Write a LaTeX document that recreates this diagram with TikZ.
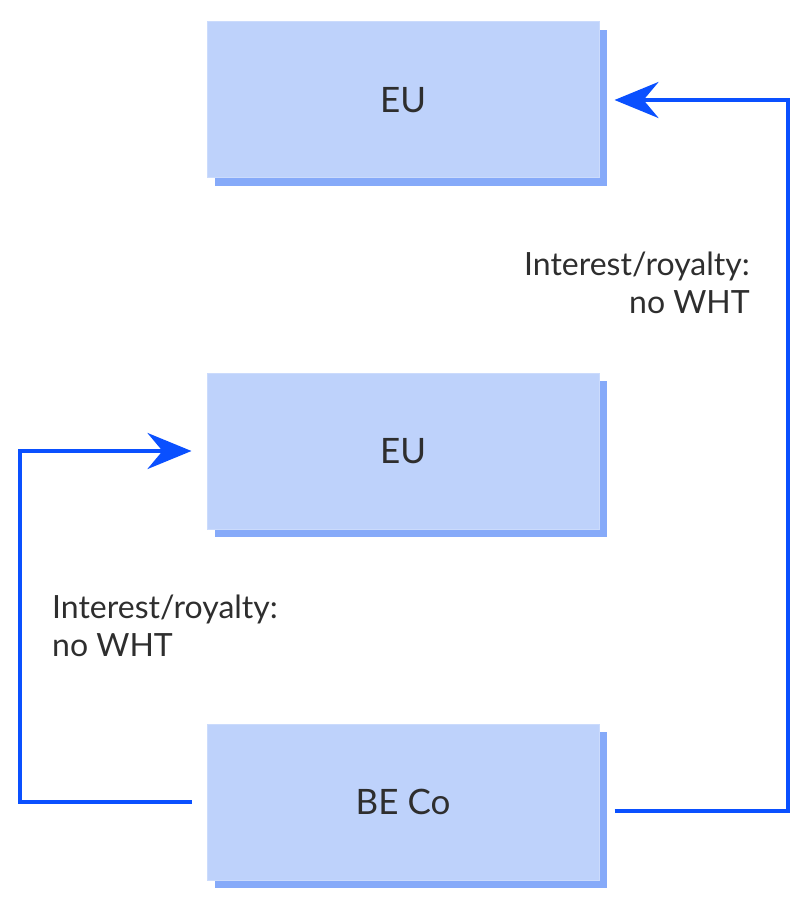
\documentclass[tikz,border=0pt]{standalone}
\usepackage{fontspec}
\setmainfont{Lato}
\usetikzlibrary{arrows.meta,shadows}
\definecolor{boxblue}{HTML}{BED2FB}
\definecolor{shadeblue}{HTML}{86AAF9}
\definecolor{lineblue}{HTML}{0A50FF}
\definecolor{textgray}{HTML}{2E2E2E}
\tikzset{
  % entity boxes with a hard offset shadow
  entity node/.style={rectangle,fill=boxblue,draw=boxblue!80!white,line width=1pt,
    minimum width=392pt,minimum height=156pt,inner sep=0,
    text=textgray,font=\fontsize{35}{40}\selectfont,
    drop shadow={shadow xshift=8pt,shadow yshift=-8pt,fill=shadeblue,opacity=1}},
  flow line/.style={draw=lineblue,line width=4pt,
    -{Stealth[length=44pt,width=36pt,inset=15pt]}},
  flow label/.style={text=textgray,font=\fontsize{32}{38}\selectfont,inner sep=0}
}

\begin{document}
\begin{tikzpicture}[x=1pt,y=-1pt]
\useasboundingbox (0,0) rectangle (800,912);
\node[entity node] (eu top) at (403,100) {EU};
\node[entity node] (eu mid) at (403,451) {EU};
\node[entity node] (be co) at (403,802) {BE Co};
% payments out of BE Co
\draw[flow line] ([xshift=15pt,yshift=-9pt]be co.east) -- ++(173,0)
  |- ([xshift=15pt]eu top.east);
\draw[flow line] ([xshift=-15pt]be co.west) -- ++(-172,0)
  |- ([xshift=-15pt]eu mid.west);
\node[flow label,align=right,anchor=east] (label right) at (750,283)
  {Interest/royalty:\\no WHT};
\node[flow label,align=left,anchor=west] (label left) at (52,626)
  {Interest/royalty:\\no WHT};
\end{tikzpicture}
\end{document}
